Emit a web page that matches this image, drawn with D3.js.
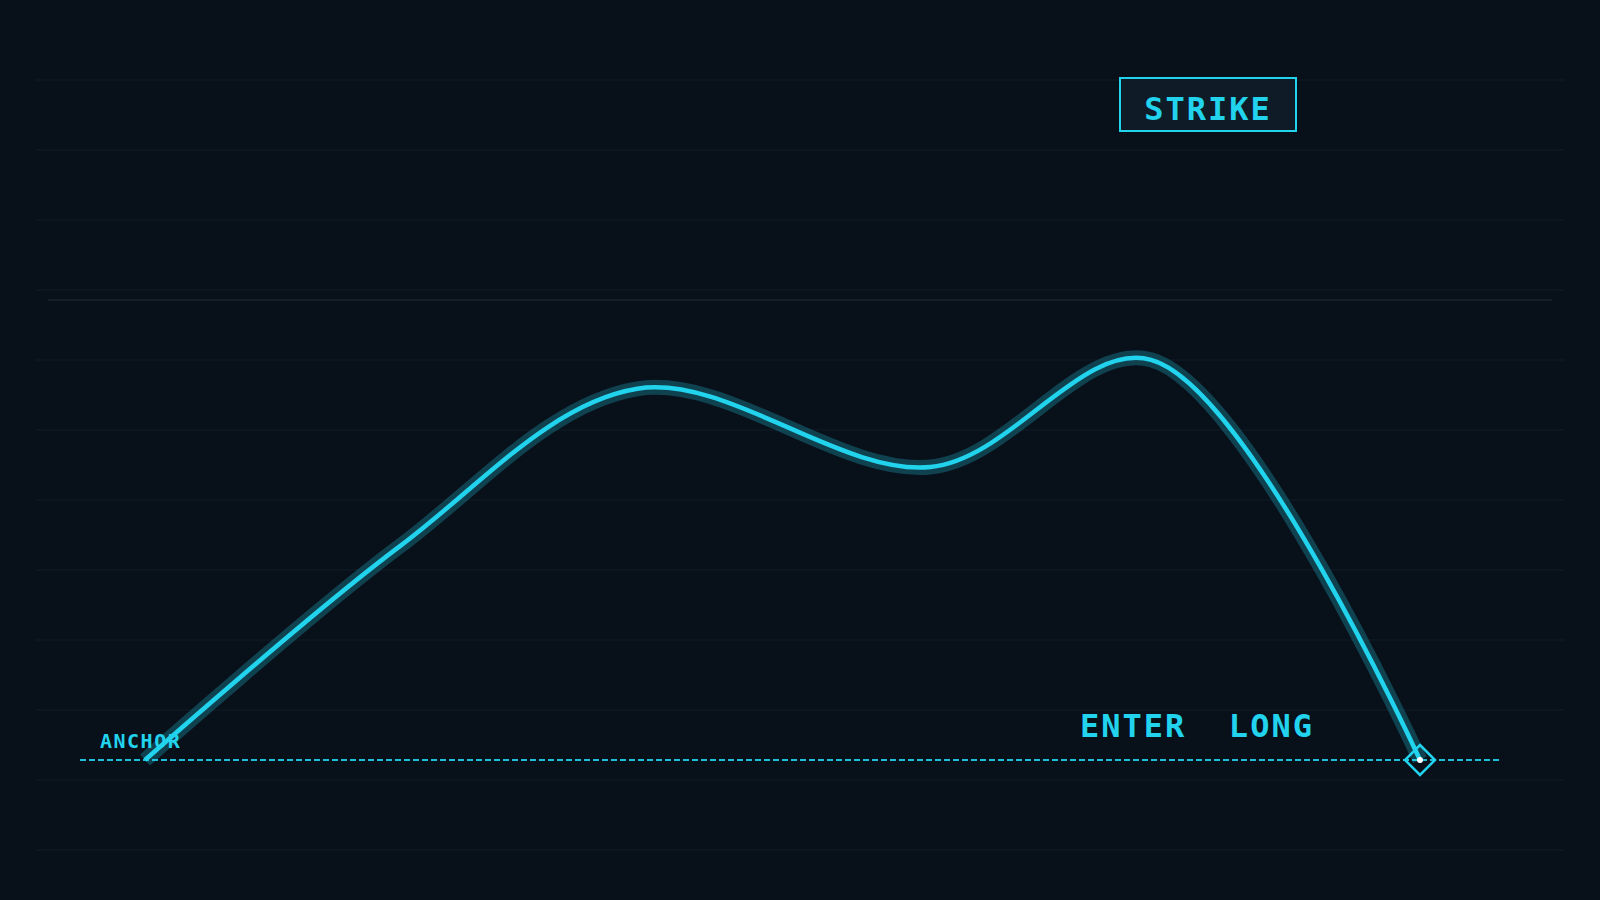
<!DOCTYPE html>
<html>
<head>
<meta charset="utf-8">
<script src="https://cdn.jsdelivr.net/npm/d3@7"></script>
<style>
  html, body { margin: 0; padding: 0; background: #08101a; }
  svg { display: block; }
</style>
</head>
<body>
<div id="chart"></div>
<script>
// session position (0 = anchor, 100 = entry) and move from anchor (0 = anchor level, 100 = ceiling)
var ticks  = [0, 20.0, 38.6, 61.6, 78.9, 100];
var moves  = [0, 46.5, 80.7, 63.7, 87.0, 0];
var levels = [0, 100];            // anchor level, ceiling level
var labels = ["ANCHOR", "STRIKE", "ENTER  LONG"];

var width = 1600, height = 900;
var cyan = "#22d3ee";

var data = ticks.map(function (t, i) { return { t: t, v: moves[i] }; });

var svg = d3.select("#chart")
  .append("svg")
    .attr("width", width)
    .attr("height", height);

svg.append("rect")
  .attr("width", width)
  .attr("height", height)
  .attr("fill", "#08101a");

var x = d3.scaleLinear().domain([0, 100]).range([145, 1420]);
var y = d3.scaleLinear().domain([0, 100]).range([760, 300]);

// background grid, independent of the data
var gy = d3.scaleLinear().domain([0, 11]).range([80, 850]);
svg.append("g")
  .selectAll("line")
  .data(d3.range(12))
  .enter()
  .append("line")
    .attr("x1", 36)
    .attr("x2", 1564)
    .attr("y1", function (d) { return gy(d); })
    .attr("y2", function (d) { return gy(d); })
    .attr("stroke", "#101c26")
    .attr("stroke-width", 1);

// ceiling
svg.append("line")
  .attr("x1", 48)
  .attr("x2", 1552)
  .attr("y1", y(levels[1]))
  .attr("y2", y(levels[1]))
  .attr("stroke", "#1e2d38")
  .attr("stroke-width", 1);

// anchor level
svg.append("line")
  .attr("x1", 80)
  .attr("x2", 1500)
  .attr("y1", y(levels[0]))
  .attr("y2", y(levels[0]))
  .attr("stroke", cyan)
  .attr("stroke-opacity", 0.9)
  .attr("stroke-width", 2)
  .attr("stroke-dasharray", "6 3");

var line = d3.line()
  .x(function (d) { return x(d.t); })
  .y(function (d) { return y(d.v); })
  .curve(d3.curveCatmullRom.alpha(0.5));

// glow
svg.append("path")
  .datum(data)
  .attr("d", line)
  .attr("fill", "none")
  .attr("stroke", cyan)
  .attr("stroke-opacity", 0.25)
  .attr("stroke-width", 15);

svg.append("path")
  .datum(data)
  .attr("d", line)
  .attr("fill", "none")
  .attr("stroke", cyan)
  .attr("stroke-width", 4.5);

// entry marker
var last = data[data.length - 1];
var r = 15;
svg.append("path")
  .attr("d", "M0," + (-r) + "L" + r + ",0L0," + r + "L" + (-r) + ",0Z")
  .attr("transform", "translate(" + x(last.t) + "," + y(last.v) + ")")
  .attr("fill", "none")
  .attr("stroke", cyan)
  .attr("stroke-width", 2.5);

svg.append("circle")
  .attr("cx", x(last.t))
  .attr("cy", y(last.v))
  .attr("r", 3)
  .attr("fill", "#ffffff");

var mono = "'DejaVu Sans Mono', 'Liberation Mono', monospace";

svg.append("text")
  .attr("x", 100)
  .attr("y", 748)
  .attr("fill", cyan)
  .attr("font-family", mono)
  .attr("font-weight", "bold")
  .attr("font-size", 20)
  .attr("letter-spacing", 1.5)
  .text(labels[0]);

// strike box
svg.append("rect")
  .attr("x", 1120)
  .attr("y", 78)
  .attr("width", 176)
  .attr("height", 53)
  .attr("fill", "#0f1b26")
  .attr("stroke", cyan)
  .attr("stroke-width", 2);

svg.append("text")
  .attr("x", 1208)
  .attr("y", 120)
  .attr("text-anchor", "middle")
  .attr("fill", cyan)
  .attr("font-family", mono)
  .attr("font-weight", "bold")
  .attr("font-size", 32)
  .attr("letter-spacing", 2)
  .text(labels[1]);

svg.append("text")
  .attr("x", 1080)
  .attr("y", 737)
  .attr("fill", cyan)
  .attr("font-family", mono)
  .attr("font-weight", "bold")
  .attr("font-size", 32)
  .attr("letter-spacing", 2)
  .style("white-space", "pre")
  .text(labels[2]);
</script>
</body>
</html>
